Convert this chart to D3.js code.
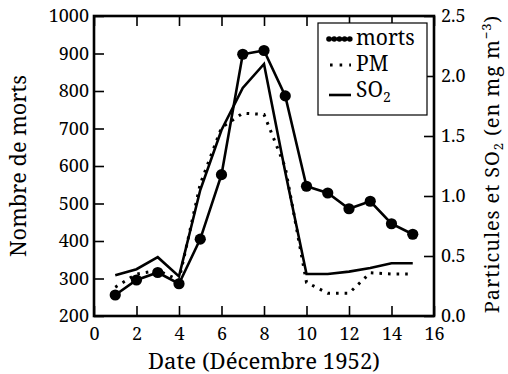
<!DOCTYPE html>
<html>
<head>
<meta charset="utf-8">
<script src="https://cdn.jsdelivr.net/npm/d3@7"></script>
<style>
  body { margin: 0; background: #fff; }
  svg text { font-family: "Noto Serif", "Liberation Serif", serif; fill: #000; }
</style>
</head>
<body>
<svg id="chart" width="508" height="374"></svg>
<script>
// smog de Londres, decembre 1952
let days = [1, 2, 3, 4, 5, 6, 7, 8, 9, 10, 11, 12, 13, 14, 15]
let morts = [256, 296, 316, 286, 405, 577, 898, 908, 787, 546, 528, 486, 506, 446, 418]
let pm = [0.24, 0.35, 0.38, 0.30, 1.10, 1.57, 1.69, 1.68, 1.24, 0.28, 0.19, 0.19, 0.36, 0.35, 0.35]
let so2 = [0.34, 0.39, 0.49, 0.33, 1.05, 1.55, 1.90, 2.10, 1.20, 0.35, 0.35, 0.37, 0.40, 0.44, 0.44]

let xTicks = [0, 2, 4, 6, 8, 10, 12, 14, 16]
let leftTicks = [200, 300, 400, 500, 600, 700, 800, 900, 1000]
let rightTicks = [0.0, 0.5, 1.0, 1.5, 2.0, 2.5]

let margin = {left: 94, right: 74, top: 16, bottom: 58}
let width = 508 - margin.left - margin.right
let height = 374 - margin.top - margin.bottom
let fs = 18      // ticks
let lfs = 21     // labels and legend
let serif = '"Noto Serif", "Liberation Serif", serif'

let svg = d3.select("#chart")
let g = svg.append("g").attr("transform", `translate(${margin.left},${margin.top})`)

let x = d3.scaleLinear().domain([0, 16]).range([0, width])
let yL = d3.scaleLinear().domain([200, 1000]).range([height, 0])
let yR = d3.scaleLinear().domain([0, 2.5]).range([height, 0])

function styleAxis(sel){
    sel.attr("font-family", null)
    sel.select(".domain").remove()
    sel.selectAll(".tick line").attr("stroke", "#000").attr("stroke-width", 1.6)
    sel.selectAll(".tick text").style("font-size", fs + "px").style("font-family", serif).attr("fill", "#000")
}

// bottom / top
g.append("g").attr("transform", `translate(0,${height})`)
    .call(d3.axisBottom(x).tickValues(xTicks).tickFormat(d3.format("d")).tickSizeInner(-10).tickPadding(11))
    .call(styleAxis)
g.append("g")
    .call(d3.axisTop(x).tickValues(xTicks).tickSizeInner(-10).tickFormat(""))
    .call(styleAxis)
// left / right
g.append("g")
    .call(d3.axisLeft(yL).tickValues(leftTicks).tickFormat(d3.format("d")).tickSizeInner(-10).tickPadding(5))
    .call(styleAxis)
g.append("g").attr("transform", `translate(${width},0)`)
    .call(d3.axisRight(yR).tickValues(rightTicks).tickFormat(d3.format(".1f")).tickSizeInner(-10).tickPadding(7))
    .call(styleAxis)

// lines
let lineMorts = d3.line().x((d, i) => x(days[i])).y(d => yL(d))
let lineR = d3.line().x((d, i) => x(days[i])).y(d => yR(d))

g.append("path").datum(so2)
    .attr("d", lineR).attr("fill", "none").attr("stroke", "#000").attr("stroke-width", 2.6)

g.append("path").datum(pm)
    .attr("d", lineR).attr("fill", "none").attr("stroke", "#000").attr("stroke-width", 3)
    .attr("stroke-dasharray", "2.6,6")

g.append("path").datum(morts)
    .attr("d", lineMorts).attr("fill", "none").attr("stroke", "#000").attr("stroke-width", 2.6)

g.selectAll(".dot").data(morts).enter()
    .append("circle")
    .attr("class", "dot")
    .attr("cx", (d, i) => x(days[i]))
    .attr("cy", d => yL(d))
    .attr("r", 5.6)
    .attr("fill", "#000")

// frame
g.append("rect").attr("width", width).attr("height", height)
    .attr("fill", "none").attr("stroke", "#000").attr("stroke-width", 2.6)

// legend
let lg = svg.append("g").attr("transform", "translate(318,23)")
lg.append("rect").attr("width", 109).attr("height", 92)
    .attr("fill", "#fff").attr("stroke", "#000").attr("stroke-width", 1.2)

let items = ["morts", "PM", "SO₂"]
items.forEach((name, i) => {
    let cy = 16 + i * 26
    let row = lg.append("g").attr("transform", `translate(0,${cy})`)
    if(i == 0){
        row.append("line").attr("x1", 10).attr("x2", 33).attr("stroke", "#000").attr("stroke-width", 2.6)
        for(let k = 0; k < 5; k++){
            row.append("circle").attr("cx", 11 + k * 5.2).attr("cy", 0).attr("r", 2.8).attr("fill", "#000")
        }
    } else if(i == 1){
        row.append("line").attr("x1", 12).attr("x2", 33).attr("stroke", "#000").attr("stroke-width", 3)
            .attr("stroke-dasharray", "2.6,7")
    } else {
        row.append("line").attr("x1", 11).attr("x2", 33).attr("y1", 4).attr("y2", 4)
            .attr("stroke", "#000").attr("stroke-width", 2.6)
    }
    let t = row.append("text").attr("x", 38).attr("y", 6).style("font-size", lfs + "px")
    if(i == 2){
        t.text("SO")
        t.append("tspan").text("2").style("font-size", "14px").attr("dy", 5)
    } else {
        t.text(name)
    }
})

// axis labels
svg.append("text")
    .attr("x", margin.left + width / 2).attr("y", 369)
    .attr("text-anchor", "middle").style("font-size", lfs + "px")
    .attr("textLength", 232).attr("lengthAdjust", "spacingAndGlyphs")
    .text("Date (Décembre 1952)")

svg.append("text")
    .attr("transform", `translate(26,166) rotate(-90)`)
    .attr("text-anchor", "middle").style("font-size", lfs + "px")
    .attr("textLength", 182).attr("lengthAdjust", "spacingAndGlyphs")
    .text("Nombre de morts")

let rl = svg.append("text")
    .attr("transform", `translate(499,164) rotate(-90)`)
    .attr("text-anchor", "middle").style("font-size", "20px")
    .style("letter-spacing", "0.9px")
rl.append("tspan").text("Particules et SO")
rl.append("tspan").text("2").style("font-size", "13px").attr("dy", 4)
rl.append("tspan").text(" (en mg m").attr("dy", -4)
rl.append("tspan").text("−3").style("font-size", "13px").attr("dy", -8)
rl.append("tspan").text(")").attr("dy", 8)
</script>
</body>
</html>
